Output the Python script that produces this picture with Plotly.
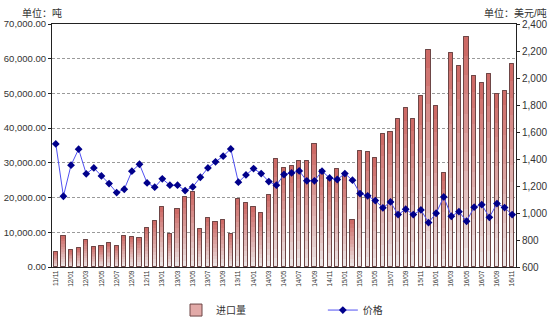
import plotly.graph_objects as go

# Monthly periods, Nov 2011 - Nov 2016 (YY/MM)
months = []
for yr in range(2011, 2017):
    for mo in range(1, 13):
        if (yr, mo) < (2011, 11) or (yr, mo) > (2016, 11):
            continue
        months.append(f"{yr % 100:02d}/{mo:02d}")

# Import volume, tonnes
import_volume = [
    4300, 8850, 4800, 5500, 7900, 5900, 6000, 6900, 6150, 9000,
    8650, 8300, 11250, 13350, 17300, 9400, 16800, 20300, 21500, 11050,
    14050, 13100, 13450, 9600, 19600, 18350, 17400, 15500, 20700, 31250,
    28400, 29000, 30500, 30500, 35400, 27800, 25000, 28300, 26900, 13500,
    33500, 33100, 31400, 38200, 39000, 42600, 45900, 42600, 49200, 62600,
    46500, 27000, 61700, 58000, 66300, 55000, 52900, 55700, 49900, 50800,
    58500,
]

# Price, USD per tonne
price = [
    1512, 1124, 1354, 1473, 1290, 1334, 1275, 1218, 1151, 1176,
    1310, 1361, 1223, 1191, 1253, 1206, 1206, 1166, 1193, 1265,
    1334, 1379, 1421, 1475, 1228, 1282, 1329, 1292, 1233, 1206,
    1285, 1297, 1312, 1238, 1238, 1310, 1260, 1248, 1292, 1243,
    1144, 1127, 1092, 1038, 1082, 988, 1028, 988, 1023, 929,
    998, 1119, 976, 1010, 939, 1043, 1062, 968, 1070, 1040,
    988,
]

tick_labels = months[::2]

FONT = "Liberation Sans, Noto Sans CJK SC, sans-serif"
TXT = "#333333"
BAR_W = 0.55
N_BANDS = 12
TOP_RGB = (204, 100, 96)
BOT_RGB = (236, 233, 233)

fig = go.Figure()

# Base bar (carries the legend entry)
fig.add_trace(go.Bar(
    x=months, y=import_volume, name="进口量", width=BAR_W,
    marker=dict(color="#e2aaa8", line=dict(color="#6e4646", width=1)),
    legend="legend", hoverinfo="skip",
))

# Vertical colour gradient inside each bar, built from bands of the value
for k in range(N_BANDS):
    lo, hi = k / N_BANDS, (k + 1) / N_BANDS
    t = (k + 0.5) / N_BANDS
    c = tuple(round(BOT_RGB[i] + (TOP_RGB[i] - BOT_RGB[i]) * t) for i in range(3))
    fig.add_trace(go.Bar(
        x=months,
        base=[v * lo for v in import_volume],
        y=[v * (hi - lo) for v in import_volume],
        width=BAR_W, showlegend=False, hoverinfo="skip",
        marker=dict(color=f"rgb{c}", line=dict(width=0)),
    ))

# Outline on top of the gradient
fig.add_trace(go.Bar(
    x=months, y=import_volume, width=BAR_W, showlegend=False,
    marker=dict(color="rgba(0,0,0,0)", line=dict(color="#6e4646", width=1)),
))

# Price line on the secondary axis
fig.add_trace(go.Scatter(
    x=months, y=price, name="价格", yaxis="y2", mode="lines+markers",
    line=dict(color="#5050f2", width=1),
    marker=dict(symbol="diamond", size=6, color="#00008b"),
    legend="legend2",
))

fig.update_layout(
    width=550, height=325,
    margin=dict(l=52, r=34, t=24, b=58, autoexpand=False),
    paper_bgcolor="white", plot_bgcolor="white",
    barmode="overlay", bargap=0,
    font=dict(family=FONT, size=10, color=TXT),
    xaxis=dict(
        type="category", categoryorder="array", categoryarray=months,
        range=[-0.5, len(months) - 0.5],
        tickmode="array", tickvals=tick_labels, ticktext=tick_labels,
        tickangle=-90, tickfont=dict(size=6.5, color=TXT),
        showline=True, linecolor="#222222", linewidth=1, mirror=True,
        showgrid=False, ticks="", automargin=False,
    ),
    yaxis=dict(
        range=[0, 70000], dtick=10000, tickformat=",.2f",
        showline=True, linecolor="#222222", linewidth=1,
        ticks="outside", ticklen=3, tickcolor="#222222",
        showgrid=True, gridcolor="#9a9a9a", griddash="3px,2px", gridwidth=1,
        zeroline=False, tickfont=dict(size=9.5, color=TXT), automargin=False,
    ),
    yaxis2=dict(
        overlaying="y", side="right", range=[600, 2400], dtick=200,
        tickformat=",", showgrid=False, zeroline=False,
        showline=True, linecolor="#222222", linewidth=1,
        ticks="outside", ticklen=3, tickcolor="#222222",
        tickfont=dict(size=10, color=TXT), automargin=False,
    ),
    legend=dict(
        orientation="h", xref="container", yref="container",
        x=0.32, y=0.046, xanchor="left", yanchor="middle",
        bgcolor="rgba(0,0,0,0)", font=dict(size=10, color=TXT),
    ),
    legend2=dict(
        orientation="h", xref="container", yref="container",
        x=0.587, y=0.046, xanchor="left", yanchor="middle",
        bgcolor="rgba(0,0,0,0)", font=dict(size=10, color=TXT),
    ),
    annotations=[
        dict(text="单位：吨", xref="paper", yref="paper", x=-0.069, y=1.045,
             xanchor="left", yanchor="middle", showarrow=False,
             font=dict(size=10, color=TXT)),
        dict(text="单位：美元/吨", xref="paper", yref="paper", x=0.926, y=1.045,
             xanchor="left", yanchor="middle", showarrow=False,
             font=dict(size=10, color=TXT)),
    ],
    showlegend=True,
)

fig.write_html("out.html")
